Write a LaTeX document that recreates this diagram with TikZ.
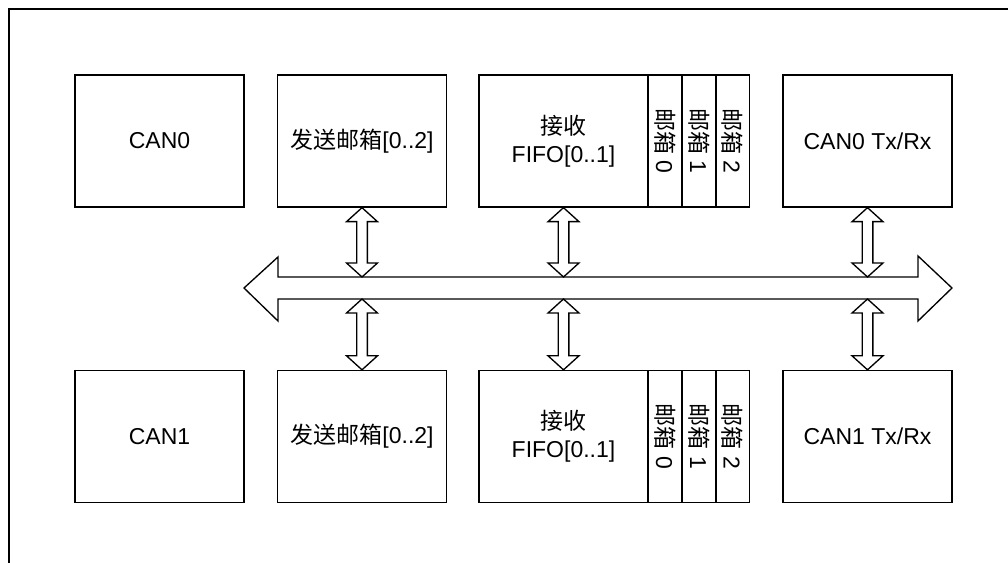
\documentclass[tikz,border=0pt]{standalone}
\usepackage{fontspec}
\setmainfont{Liberation Sans}
\newfontfamily\cjk{Noto Sans CJK SC}
\usetikzlibrary{calc}

\tikzset{
  box/.style={draw, line width=1pt, minimum width=126.75pt, minimum height=99pt,
    inner sep=0pt, align=center},
  mbox/.style={draw, line width=1pt, rotate=-90, minimum width=99pt,
    minimum height=25.3pt, inner sep=0pt},
  busline/.style={draw, line width=1pt, line join=miter, fill=white}
}

%% outlined two-headed arrow, from upper point #1 to lower point #2
\newcommand{\biarrow}[2]{%
  \draw[busline] let \p1=#1, \p2=#2 in
    (\x1,\y1) -- ++(11.6pt,-10.5pt) -- ++(-7.6pt,0pt)
    -- ({\x1+4pt},{\y2+10.5pt}) -- ++(7.6pt,0pt) -- (\x1,\y2)
    -- ++(-11.6pt,10.5pt) -- ++(7.6pt,0pt)
    -- ({\x1-4pt},{\y1-10.5pt}) -- ++(-7.6pt,0pt) -- cycle;}

\begin{document}
\begin{tikzpicture}[x=0.75pt, y=-0.75pt, font=\fontsize{17.25}{21}\selectfont]

  \useasboundingbox (0,0) rectangle (1008,563);

  %% ---- outer frame (only top and left edges show) ----
  \draw[line width=1pt] (9,563) -- (9,9) -- (1008,9);

  %% ---- upper row ----
  \node[box] (can0)  at (159.5,141) {CAN0};
  \node[box] (send0) at (362,141)   {{\cjk 发送邮箱}[0..2]};
  \node[box] (fifo0) at (563.5,141) {{\cjk 接收}\\FIFO[0..1]};
  \node[mbox] (mb00) at (665,141)   {{\cjk 邮箱} 0};
  \node[mbox] (mb01) at (699,141)   {{\cjk 邮箱} 1};
  \node[mbox] (mb02) at (732.5,141) {{\cjk 邮箱} 2};
  \node[box] (tx0)   at (867.5,141) {CAN0 Tx/Rx};

  %% ---- lower row ----
  \node[box] (can1)  at (159.5,436.5) {CAN1};
  \node[box] (send1) at (362,436.5)   {{\cjk 发送邮箱}[0..2]};
  \node[box] (fifo1) at (563.5,436.5) {{\cjk 接收}\\FIFO[0..1]};
  \node[mbox] (mb10) at (665,436.5)   {{\cjk 邮箱} 0};
  \node[mbox] (mb11) at (699,436.5)   {{\cjk 邮箱} 1};
  \node[mbox] (mb12) at (732.5,436.5) {{\cjk 邮箱} 2};
  \node[box] (tx1)   at (867.5,436.5) {CAN1 Tx/Rx};

  %% ---- bus ----
  \coordinate (bustop) at (598,277);
  \coordinate (busbot) at (598,299);
  \draw[busline]
    (244,288) -- (278,257) -- (278,277) -- (918,277) -- (918,256)
    -- (952,288) -- (918,321) -- (918,299) -- (278,299) -- (278,321) -- cycle;

  %% ---- links between boxes and bus ----
  \foreach \b in {send0, fifo0, tx0}
    \biarrow{(\b.south)}{(\b.south |- bustop)};
  \foreach \b in {send1, fifo1, tx1}
    \biarrow{(\b.north |- busbot)}{(\b.north)};

\end{tikzpicture}
\end{document}
